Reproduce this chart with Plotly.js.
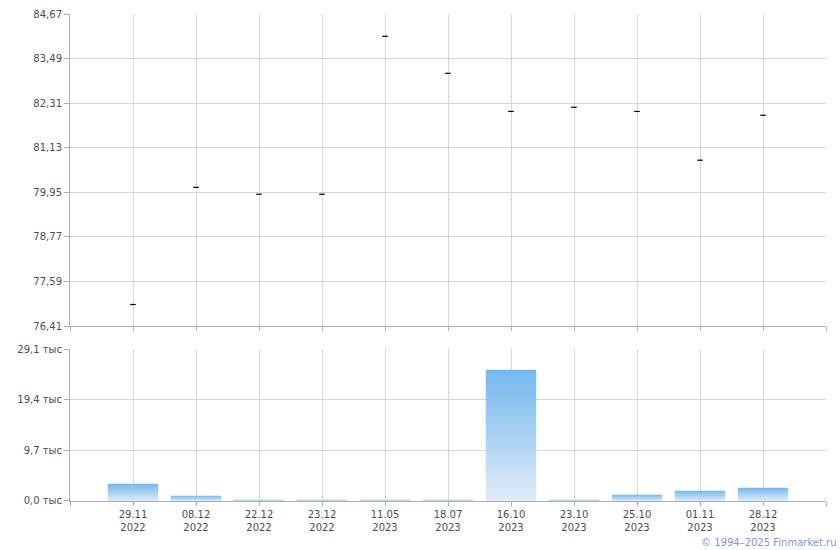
<!DOCTYPE html>
<html>
<head>
<meta charset="utf-8">
<script src="https://cdn.plot.ly/plotly-3.0.1.min.js"></script>
<style>html,body{margin:0;padding:0;background:#fff;}#chart{width:840px;height:550px;}</style>
</head>
<body>
<div id="chart"></div>
<script>
// Data
const dates = ['29.11', '08.12', '22.12', '23.12', '11.05', '18.07', '16.10', '23.10', '25.10', '01.11', '28.12'];
const years = ['2022', '2022', '2022', '2022', '2023', '2023', '2023', '2023', '2023', '2023', '2023'];
const prices = [76.98, 80.08, 79.90, 79.90, 84.08, 83.10, 82.09, 82.20, 82.09, 80.80, 81.99];
const volumes = [3.3, 1.0, 0.25, 0.25, 0.25, 0.25, 25.15, 0.25, 1.2, 1.97, 2.55]; // тыс
const priceTicks = [76.41, 77.59, 78.77, 79.95, 81.13, 82.31, 83.49, 84.67];
const volumeTicks = [0, 9.7, 19.4, 29.1];

const idx = dates.map((d, i) => i);
const labels = dates.map((d, i) => d + '<br>' + years[i]);
const gridVals = [-1].concat(idx, [dates.length]);
const gridText = [''].concat(labels, ['']);

const fmt = (v, n) => v.toFixed(n).replace('.', ',');

const traces = [];
traces.push({
  type: 'scatter', mode: 'markers', x: idx, y: prices, xaxis: 'x2', yaxis: 'y',
  marker: {symbol: 'line-ew', size: 4, color: '#000', line: {color: '#000', width: 1.2}},
  hoverinfo: 'skip', showlegend: false
});
const bw = 0.4;
volumes.forEach((v, i) => {
  traces.push({
    type: 'scatter', mode: 'none', fill: 'toself',
    x: [i - bw, i - bw, i + bw, i + bw, i - bw],
    y: [0, v, v, 0, 0],
    xaxis: 'x', yaxis: 'y2',
    fillgradient: {type: 'vertical', colorscale: [[0, '#e1ebf7'], [1, '#72b8ef']]},
    hoverinfo: 'skip', showlegend: false
  });
});

const font = {family: 'DejaVu Sans, Verdana, sans-serif', size: 10, color: '#4d4d4d'};
const gridColor = '#d3d8dc';
const lineColor = '#a9aeb6';

const layout = {
  width: 840, height: 550,
  margin: {l: 70, r: 14, t: 14, b: 49},
  paper_bgcolor: '#fff', plot_bgcolor: '#fff',
  font: font,
  showlegend: false,
  xaxis2: {
    anchor: 'y', domain: [0, 1], range: [-1, dates.length], tickmode: 'array',
    tickvals: gridVals, ticktext: gridText, showticklabels: false,
    showgrid: true, gridcolor: gridColor, zeroline: false,
    showline: true, linecolor: lineColor, ticks: 'outside', ticklen: 4, tickcolor: lineColor,
    fixedrange: true
  },
  yaxis: {
    domain: [0.3593, 1], range: [priceTicks[0], priceTicks[priceTicks.length - 1]],
    tickmode: 'array', tickvals: priceTicks, ticktext: priceTicks.map(v => fmt(v, 2)),
    showgrid: true, gridcolor: gridColor, zeroline: false,
    showline: true, linecolor: lineColor, ticks: 'outside', ticklen: 5, tickcolor: lineColor,
    fixedrange: true
  },
  xaxis: {
    anchor: 'y2', domain: [0, 1], range: [-1, dates.length], tickmode: 'array',
    tickvals: gridVals, ticktext: gridText,
    showgrid: true, gridcolor: gridColor, zeroline: false,
    showline: true, linecolor: lineColor, ticks: 'outside', ticklen: 4, tickcolor: lineColor,
    fixedrange: true
  },
  yaxis2: {
    domain: [0, 0.3121], range: [volumeTicks[0], volumeTicks[volumeTicks.length - 1]],
    tickmode: 'array', tickvals: volumeTicks, ticktext: volumeTicks.map(v => fmt(v, 1) + ' тыс'),
    showgrid: true, gridcolor: gridColor, zeroline: false,
    showline: true, linecolor: lineColor, ticks: 'outside', ticklen: 5, tickcolor: lineColor,
    fixedrange: true
  },
  annotations: [{
    text: '© 1994–2025 Finmarket.ru', xref: 'paper', yref: 'paper', x: 1.017, y: -0.085,
    xanchor: 'right', yanchor: 'middle', showarrow: false,
    font: {family: 'DejaVu Sans, Verdana, sans-serif', size: 10, color: '#8096e0'}
  }]
};

Plotly.newPlot('chart', traces, layout, {displayModeBar: false, staticPlot: true});
</script>
</body>
</html>
